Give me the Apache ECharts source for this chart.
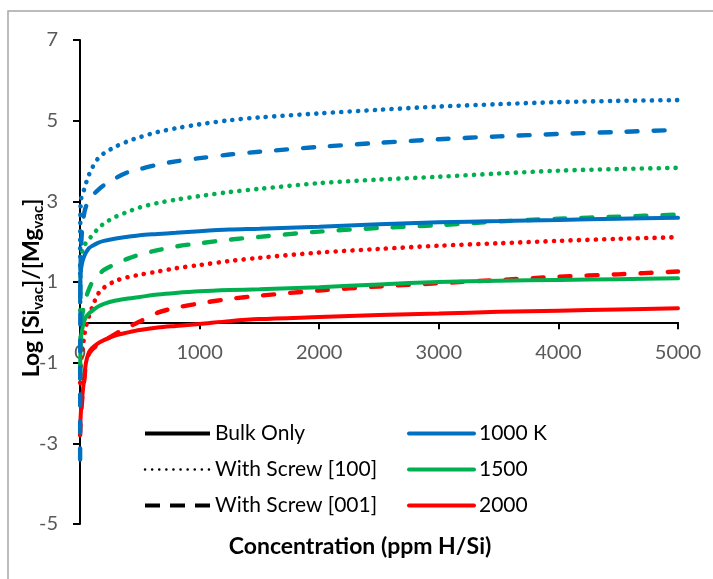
<!DOCTYPE html>
<html>
<head>
<meta charset="utf-8">
<script src="https://cdn.jsdelivr.net/npm/echarts@6/dist/echarts.min.js"></script>
<style>
  html, body { margin: 0; padding: 0; background: #fff; }
  #chart { width: 713px; height: 579px; }
</style>
</head>
<body>
<div id="chart"></div>
<script>
// 浓度 (ppm H/Si)
const xs = [1, 3, 8, 20, 35, 50, 75, 100, 150, 200, 300, 400, 500, 650, 800, 1000, 1250, 1500, 2000, 2500, 3000, 3500, 4000, 4500, 5000];

// 1000 K
const k1000Bulk = [0.5, 1.0, 1.3, 1.5, 1.64, 1.73, 1.84, 1.89, 1.97, 2.02, 2.08, 2.12, 2.16, 2.19, 2.22, 2.26, 2.3, 2.32, 2.37, 2.43, 2.48, 2.51, 2.54, 2.57, 2.59];
const k1000S100 = [1.0, 2.6, 3.05, 3.15, 3.3, 3.45, 3.66, 3.82, 4.06, 4.19, 4.36, 4.49, 4.59, 4.72, 4.81, 4.91, 5.01, 5.08, 5.18, 5.27, 5.35, 5.41, 5.46, 5.49, 5.51];
const k1000S001 = [-3.4, 0.5, 1.8, 2.37, 2.7, 2.87, 3.03, 3.13, 3.28, 3.4, 3.58, 3.72, 3.8, 3.91, 3.99, 4.07, 4.16, 4.23, 4.35, 4.45, 4.54, 4.61, 4.67, 4.72, 4.77];
// 1500 K
const k1500Bulk = [-1.4, -0.8, -0.4, -0.15, 0.03, 0.13, 0.22, 0.28, 0.39, 0.46, 0.54, 0.59, 0.63, 0.69, 0.73, 0.77, 0.8, 0.82, 0.87, 0.94, 1.0, 1.03, 1.05, 1.07, 1.09];
const k1500S100 = [0.3, 1.0, 1.5, 1.79, 1.9, 1.97, 2.06, 2.15, 2.32, 2.45, 2.62, 2.74, 2.85, 2.96, 3.04, 3.13, 3.23, 3.31, 3.45, 3.54, 3.61, 3.69, 3.76, 3.8, 3.83];
const k1500S001 = [-1.3, -0.6, -0.1, 0.2, 0.45, 0.62, 0.82, 0.98, 1.15, 1.3, 1.45, 1.58, 1.68, 1.79, 1.88, 1.96, 2.05, 2.12, 2.25, 2.34, 2.41, 2.5, 2.57, 2.62, 2.67];
// 2000 K
const k2000Bulk = [-2.7, -2.5, -2.2, -1.8, -1.4, -1.0, -0.74, -0.64, -0.52, -0.44, -0.32, -0.25, -0.19, -0.13, -0.09, -0.04, 0.03, 0.08, 0.13, 0.18, 0.22, 0.26, 0.29, 0.32, 0.35];
const k2000S100 = [-1.5, -1.3, -1.0, -0.7, -0.35, -0.1, 0.15, 0.36, 0.7, 0.86, 1.03, 1.12, 1.18, 1.26, 1.34, 1.42, 1.52, 1.6, 1.73, 1.82, 1.9, 1.96, 2.02, 2.07, 2.11];
const k2000S001 = [-2.8, -2.6, -2.3, -1.85, -1.45, -1.05, -0.78, -0.68, -0.55, -0.46, -0.28, -0.12, 0.02, 0.24, 0.36, 0.47, 0.58, 0.66, 0.79, 0.89, 0.97, 1.05, 1.13, 1.19, 1.26];

const legendStyles = ['Bulk Only', 'With Screw [100]', 'With Screw [001]'];
const legendTemps = ['1000 K', '1500', '2000'];

const BLUE = '#0070C0';
const GREEN = '#00B050';
const RED = '#FF0000';
const FONT = 'Lato';

const SOLID = { width: 4, type: 'solid', cap: 'round' };
const DOTTED = { width: 4.6, type: [0.1, 8.3], cap: 'round' };
const DASHED = { width: 4.4, type: [11, 16], cap: 'round' };

const toPoints = (arr) => xs.map((x, i) => [x, arr[i]]);

const curve = (name, arr, color, style) => ({
    name: name,
    type: 'line',
    data: toPoints(arr),
    smooth: 0.3,
    showSymbol: false,
    symbol: 'none',
    silent: true,
    lineStyle: Object.assign({ color: color }, style)
});

// 只用于图例
const legendSeries = (name, color, style) => ({
    name: name,
    type: 'line',
    data: [],
    symbol: 'none',
    itemStyle: { color: color },
    lineStyle: Object.assign({ color: color }, style)
});

const myChart = echarts.init(document.getElementById('chart'));

// y=0 处的 x 轴: 相对底部的偏移
const gridTop = 40, gridBottom = 55, yMin = -5, yMax = 7;
const plotH = 579 - gridTop - gridBottom;
const zeroOffset = -plotH * (0 - yMin) / (yMax - yMin);

const legendBase = {
    orient: 'vertical',
    top: 423,
    padding: 0,
    itemWidth: 65,
    itemHeight: 20,
    itemGap: 15,
    itemTextGap: 7,
    selectedMode: false,
    itemStyle: { opacity: 0 },
    textStyle: { color: '#000', fontSize: 21, fontFamily: FONT, lineHeight: 20 }
};

const option = {
    animation: false,
    backgroundColor: '#fff',
    grid: { left: 80, right: 35, top: gridTop, bottom: gridBottom, containLabel: false },
    xAxis: {
        type: 'value',
        min: 0,
        max: 5000,
        interval: 1000,
        offset: zeroOffset,
        axisLine: { onZero: false, lineStyle: { color: '#000', width: 2 } },
        axisTick: { show: true, length: 7, lineStyle: { color: '#000', width: 2 } },
        axisLabel: { color: '#595959', fontSize: 20, fontFamily: FONT, margin: 20, formatter: (v) => String(v) },
        splitLine: { show: false }
    },
    yAxis: {
        type: 'value',
        min: yMin,
        max: yMax,
        interval: 2,
        axisLine: { show: true, onZero: false, lineStyle: { color: '#000', width: 2 } },
        axisTick: { show: true, length: 7, lineStyle: { color: '#000', width: 2 } },
        axisLabel: { color: '#595959', fontSize: 20, fontFamily: FONT, margin: 22 },
        splitLine: { show: false }
    },
    legend: [
        Object.assign({}, legendBase, {
            left: 143,
            data: legendStyles.map((n, i) => ({
                name: n,
                lineStyle: [
                    { width: 4, type: 'solid', cap: 'butt' },
                    { width: 2.5, type: [0.1, 7], cap: 'round' },
                    { width: 4, type: [15, 10], cap: 'butt' }
                ][i]
            }))
        }),
        Object.assign({}, legendBase, {
            left: 407,
            data: legendTemps.map((n) => ({ name: n, lineStyle: { width: 4, type: 'solid', cap: 'round' } }))
        })
    ],
    graphic: [
        {
            type: 'polyline',
            silent: true,
            shape: { points: [[8, 579], [8, 11], [713, 11]] },
            style: { stroke: '#A6A6A6', lineWidth: 1.5, fill: null }
        },
        {
            type: 'text',
            silent: true,
            x: 32,
            y: 288,
            rotation: Math.PI / 2,
            style: {
                text: '{b|Log [Si}{s|vac}{b|]/[Mg}{s|vac}{b|]}',
                align: 'center',
                verticalAlign: 'middle',
                rich: {
                    b: { fontSize: 23, fontWeight: 'bold', fontFamily: FONT, color: '#000', lineHeight: 28 },
                    s: { fontSize: 15, fontWeight: 'bold', fontFamily: FONT, color: '#000', lineHeight: 15, verticalAlign: 'bottom' }
                }
            }
        },
        {
            type: 'text',
            silent: true,
            x: 360,
            y: 547,
            style: {
                text: 'Concentration (ppm H/Si)',
                align: 'center',
                verticalAlign: 'middle',
                fontSize: 23,
                fontWeight: 'bold',
                fontFamily: FONT,
                fill: '#000'
            }
        }
    ],
    series: [
        legendSeries('Bulk Only', '#000', SOLID),
        legendSeries('With Screw [100]', '#000', DOTTED),
        legendSeries('With Screw [001]', '#000', DASHED),
        legendSeries('1000 K', BLUE, SOLID),
        legendSeries('1500', GREEN, SOLID),
        legendSeries('2000', RED, SOLID),
        curve('2000 S001', k2000S001, RED, DASHED),
        curve('2000 S100', k2000S100, RED, DOTTED),
        curve('2000 Bulk', k2000Bulk, RED, SOLID),
        curve('1500 S001', k1500S001, GREEN, DASHED),
        curve('1500 S100', k1500S100, GREEN, DOTTED),
        curve('1500 Bulk', k1500Bulk, GREEN, SOLID),
        curve('1000 S001', k1000S001, BLUE, DASHED),
        curve('1000 S100', k1000S100, BLUE, DOTTED),
        curve('1000 Bulk', k1000Bulk, BLUE, SOLID)
    ]
};

myChart.setOption(option);
</script>
</body>
</html>
